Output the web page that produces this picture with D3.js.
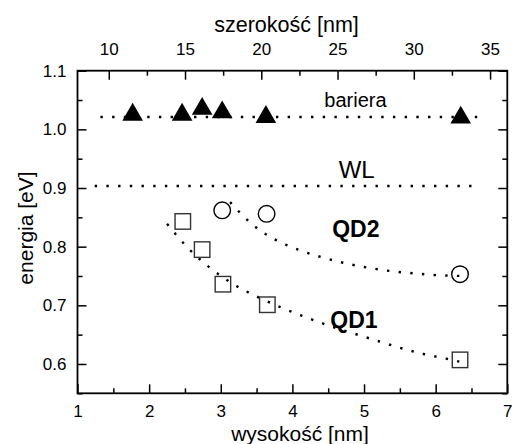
<!DOCTYPE html>
<html>
<head>
<meta charset="utf-8">
<script src="https://cdn.jsdelivr.net/npm/d3@7"></script>
<style>
  html, body { margin: 0; padding: 0; background: #fff; }
  svg { display: block; font-family: "Liberation Sans", Arial, sans-serif; }
</style>
</head>
<body>
<svg id="chart" width="514" height="444"></svg>
<script>
// Bariera (triangles)
const barrierH = [1.77, 2.46, 2.74, 3.02, 3.63, 6.35];
const barrierE = [1.025, 1.025, 1.035, 1.029, 1.021, 1.020];
// QD1 (squares)
const qd1H = [2.47, 2.74, 3.03, 3.65, 6.34];
const qd1E = [0.843, 0.795, 0.736, 0.701, 0.607];
// QD2 (circles)
const qd2H = [3.02, 3.64, 6.34];
const qd2E = [0.862, 0.856, 0.753];

// Horizontal reference levels
const barrierLevel = { h: [1.32, 6.60], e: 1.021 };
const wlLevel = { h: [1.24, 6.55], e: 0.9035 };

// Guide curves through the dot data
const qd1CurveH = [2.25, 2.54, 2.86, 3.19, 3.52, 3.85, 4.18, 4.52, 4.83, 5.17, 5.49, 5.83, 6.15, 6.33];
const qd1CurveE = [0.839, 0.798, 0.763, 0.735, 0.714, 0.696, 0.680, 0.665, 0.653, 0.640, 0.628, 0.617, 0.609, 0.604];
const qd2CurveH = [3.13, 3.43, 3.76, 4.08, 4.41, 4.73, 5.06, 5.40, 5.74, 6.08, 6.40];
const qd2CurveE = [0.876, 0.839, 0.812, 0.795, 0.782, 0.772, 0.764, 0.758, 0.754, 0.751, 0.750];

// Tick values
const xMajor = [1, 2, 3, 4, 5, 6, 7];
const xMinor = [1.5, 2.5, 3.5, 4.5, 5.5, 6.5];
const yMajor = [0.6, 0.7, 0.8, 0.9, 1.0, 1.1];
const yMinor = [0.55, 0.65, 0.75, 0.85, 0.95, 1.05];
const topMajor = [10, 15, 20, 25, 30, 35];
const topMinor = [12.5, 17.5, 22.5, 27.5, 32.5];

const svg = d3.select("#chart");
svg.append("rect").attr("width", 514).attr("height", 444).attr("fill", "#fff");

const L = 77.5, R = 507.3, T = 70.7, B = 393.3;
const x = d3.scaleLinear().domain([1, 7]).range([L, R]);
const y = d3.scaleLinear().domain([0.55, 1.1]).range([B, T]);
const xTop = d3.scaleLinear().domain([7.95, 36.13]).range([L, R]);

const tickFont = 17;
const majorLen = 9, minorLen = 5;

function styleAxis(g) {
  g.select(".domain").remove();
  g.selectAll(".tick line").attr("stroke", "#000").attr("stroke-width", 1.5);
  g.selectAll(".tick text").attr("fill", "#000").attr("font-size", tickFont)
    .attr("font-family", "Liberation Sans, Arial, sans-serif");
}

// Bottom axis
svg.append("g").attr("transform", `translate(0,${B})`)
  .call(d3.axisBottom(x).tickValues(xMajor).tickFormat(d3.format("d")).tickSize(-majorLen).tickPadding(12))
  .call(styleAxis);
svg.append("g").attr("transform", `translate(0,${B})`)
  .call(d3.axisBottom(x).tickValues(xMinor).tickFormat("").tickSize(-minorLen))
  .call(styleAxis);

// Top axis
svg.append("g").attr("transform", `translate(0,${T})`)
  .call(d3.axisTop(xTop).tickValues(topMajor).tickFormat(d3.format("d")).tickSize(-majorLen).tickPadding(16))
  .call(styleAxis);
svg.append("g").attr("transform", `translate(0,${T})`)
  .call(d3.axisTop(xTop).tickValues(topMinor).tickFormat("").tickSize(-minorLen))
  .call(styleAxis);

// Left axis
svg.append("g").attr("transform", `translate(${L},0)`)
  .call(d3.axisLeft(y).tickValues(yMajor).tickFormat(d3.format(".1f")).tickSize(-majorLen).tickPadding(11))
  .call(styleAxis);
svg.append("g").attr("transform", `translate(${L},0)`)
  .call(d3.axisLeft(y).tickValues(yMinor).tickFormat("").tickSize(-minorLen))
  .call(styleAxis);

// Right axis
svg.append("g").attr("transform", `translate(${R},0)`)
  .call(d3.axisRight(y).tickValues(yMajor).tickFormat("").tickSize(-majorLen))
  .call(styleAxis);
svg.append("g").attr("transform", `translate(${R},0)`)
  .call(d3.axisRight(y).tickValues(yMinor).tickFormat("").tickSize(-minorLen))
  .call(styleAxis);

// Frame
svg.append("rect").attr("x", L).attr("y", T).attr("width", R - L).attr("height", B - T)
  .attr("fill", "none").attr("stroke", "#000").attr("stroke-width", 1.8);

// Dotted lines
const dotStyle = sel => sel.attr("fill", "none").attr("stroke", "#000")
  .attr("stroke-width", 2.4).attr("stroke-dasharray", "2.4 9.3");

[barrierLevel, wlLevel].forEach(lv => {
  svg.append("line")
    .attr("x1", x(lv.h[0])).attr("x2", x(lv.h[1]))
    .attr("y1", y(lv.e)).attr("y2", y(lv.e))
    .call(dotStyle);
});

const line = d3.line().x(d => x(d[0])).y(d => y(d[1])).curve(d3.curveMonotoneX);
svg.append("path").attr("d", line(d3.zip(qd1CurveH, qd1CurveE))).call(dotStyle);
svg.append("path").attr("d", line(d3.zip(qd2CurveH, qd2CurveE))).call(dotStyle);

// Markers
const tri = d3.symbol().type(d3.symbolTriangle).size(185);
svg.append("g").selectAll("path").data(d3.zip(barrierH, barrierE)).join("path")
  .attr("transform", d => `translate(${x(d[0])},${y(d[1])})`)
  .attr("d", tri()).attr("fill", "#000");

const sq = 15.5;
svg.append("g").selectAll("rect").data(d3.zip(qd1H, qd1E)).join("rect")
  .attr("x", d => x(d[0]) - sq / 2).attr("y", d => y(d[1]) - sq / 2)
  .attr("width", sq).attr("height", sq)
  .attr("fill", "none").attr("stroke", "#333").attr("stroke-width", 1.4);

svg.append("g").selectAll("circle").data(d3.zip(qd2H, qd2E)).join("circle")
  .attr("cx", d => x(d[0])).attr("cy", d => y(d[1])).attr("r", 8.3)
  .attr("fill", "none").attr("stroke", "#000").attr("stroke-width", 1.4);

// Labels inside the plot
const txt = (s, px, py, size, bold) => svg.append("text")
  .attr("x", px).attr("y", py).attr("text-anchor", "middle")
  .attr("font-size", size).attr("font-weight", bold ? "bold" : "normal")
  .attr("fill", "#000").text(s);

txt("bariera", 355.5, 106.7, 20, false);
txt("WL", 356.7, 178.3, 24, false);
txt("QD2", 355.8, 236.7, 23, true);
txt("QD1", 354, 328.3, 23, true);

// Axis titles
txt("szerokość [nm]", 286.5, 31.5, 21.5, false);
txt("wysokość [nm]", 300, 441, 21, false);
svg.append("text").attr("transform", "translate(33,228) rotate(-90)")
  .attr("text-anchor", "middle").attr("font-size", 21).attr("fill", "#000")
  .text("energia [eV]");
</script>
</body>
</html>
